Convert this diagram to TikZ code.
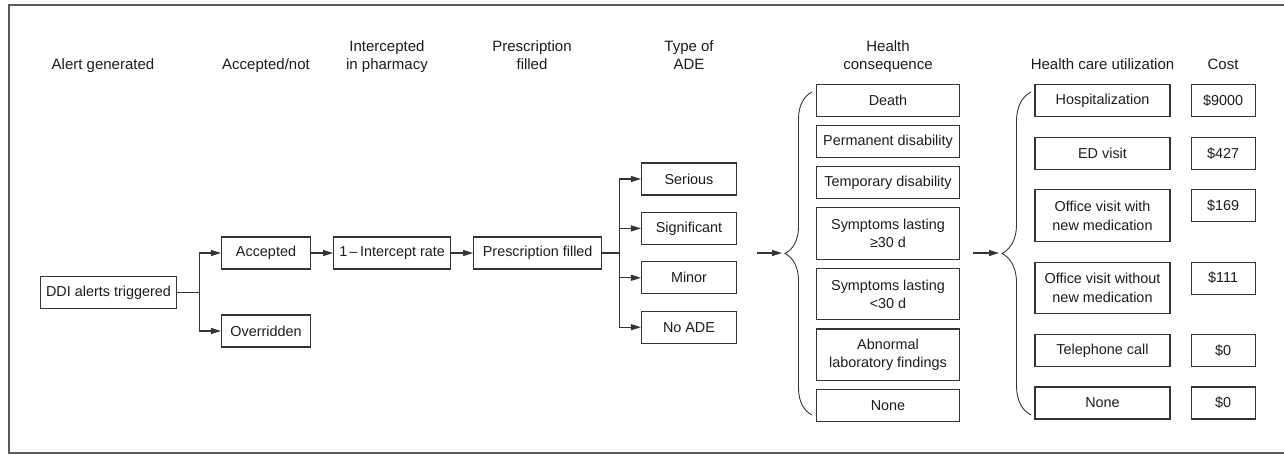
\documentclass[tikz,border=0pt]{standalone}
\usepackage{fontspec}
\setmainfont{Liberation Sans}
\usepackage{tikz}
\usetikzlibrary{arrows.meta, positioning, decorations.pathreplacing}
\definecolor{boxline}{RGB}{52, 52, 52}
\definecolor{inktext}{RGB}{28, 28, 28}
\definecolor{framegray}{RGB}{90, 90, 90}

\begin{document}
\begin{tikzpicture}[
    x=1pt, y=-1pt,
    every node/.style={font=\fontsize{14.4}{18.5}\selectfont, text=inktext},
    box/.style={rectangle, draw=boxline, line width=1.1pt, minimum height=32pt, inner sep=2pt, align=center},
    tallbox/.style={box, minimum height=51.5pt},
    heading/.style={anchor=south, inner sep=0pt, align=center, font=\fontsize{15}{18.5}\selectfont},
    link/.style={draw=boxline, line width=1.1pt},
    arr/.style={link, -{Triangle[length=10pt, width=6pt]}},
    bracket/.style={draw=boxline, line width=0.9pt, decorate, decoration={brace, amplitude=#1}}
]
\useasboundingbox (0,0) rectangle (1284,455);
\draw[framegray, line width=1.6pt] (1284,5) -- (9,5) -- (9,453) -- (1284,453);

% column headings
\node[heading] (hAlert) at (103,75.5) {Alert generated\strut};
\node[heading] (hAcc) at (266,75.5) {Accepted/not\strut};
\node[heading] (hIcpt) at (387,75.5) {Intercepted\\in pharmacy\strut};
\node[heading] (hFill) at (532,75.5) {Prescription\\filled\strut};
\node[heading] (hAde) at (689,75.5) {Type of\\ADE\strut};
\node[heading] (hCons) at (888,75.5) {Health\\consequence\strut};
\node[heading] (hUtil) at (1102.5,75.5) {Health care utilization\strut};
\node[heading] (hCost) at (1223,75.5) {Cost\strut};

% alert chain
\node[box, minimum width=136pt] (ddi) at (108.5,292.5) {DDI alerts triggered};
\node[box, minimum width=89pt] (acc) at (266,253) {Accepted};
\node[box, minimum width=89pt] (ovr) at (266,331) {Overridden};
\node[box, minimum width=117pt, right=22pt of acc] (icpt) {1\,–\,Intercept rate};
\node[box, minimum width=128pt, right=22pt of icpt] (filled) {Prescription filled};

% type of ADE
\node[box, minimum width=95pt] (serious) at (689,179) {Serious};
\node[box, minimum width=95pt, below=16.3pt of serious] (signif) {Significant};
\node[box, minimum width=95pt, below=16.3pt of signif] (minor) {Minor};
\node[box, minimum width=95pt, below=16.3pt of minor] (noade) {No ADE};

% health consequence
\node[box, minimum width=143pt] (death) at (888,100.5) {Death};
\node[box, minimum width=143pt, below=8pt of death] (perm) {Permanent disability};
\node[box, minimum width=143pt, below=8pt of perm] (temp) {Temporary disability};
\node[tallbox, minimum width=143pt, below=8pt of temp] (symlong) {Symptoms lasting\\≥30 d};
\node[tallbox, minimum width=143pt, below=8pt of symlong] (symshort) {Symptoms lasting\\<30 d};
\node[tallbox, minimum width=143pt, below=8pt of symshort] (lab) {Abnormal\\laboratory findings};
\node[box, minimum width=143pt, below=8pt of lab] (consnone) {None};

% health care utilization
\node[box, minimum width=135pt] (hosp) at (1102.5,100.5) {Hospitalization};
\node[box, minimum width=135pt, below=19.6pt of hosp] (edvisit) {ED visit};
\node[tallbox, minimum width=135pt, below=19.6pt of edvisit] (offmed) {Office visit with\\new medication};
\node[tallbox, minimum width=135pt, below=19.6pt of offmed] (offnomed) {Office visit without\\new medication};
\node[box, minimum width=135pt, below=19.6pt of offnomed] (phone) {Telephone call};
\node[box, minimum width=135pt, below=19.6pt of phone] (utilnone) {None};

% cost
\node[box, minimum width=64pt, right=20pt of hosp] (cHosp) {\$9000};
\node[box, minimum width=64pt, right=20pt of edvisit] (cEd) {\$427};
\node[box, minimum width=64pt, right=20pt of offmed.north east, anchor=north west] (cOffmed) {\$169};
\node[box, minimum width=64pt, right=20pt of offnomed.north east, anchor=north west] (cOffnomed) {\$111};
\node[box, minimum width=64pt, right=20pt of phone] (cPhone) {\$0};
\node[box, minimum width=64pt, right=20pt of utilnone] (cNone) {\$0};

% connectors
\draw[arr] (ddi.east) -- ++(22,0) |- (acc.west);
\draw[arr] (ddi.east) -- ++(22,0) |- (ovr.west);
\draw[arr] (acc) -- (icpt);
\draw[arr] (icpt) -- (filled);
\foreach \ade in {serious, signif, minor, noade}
    \draw[arr] (filled.east) -- ++(17,0) |- (\ade.west);

% braces
\coordinate (braceAin) at (757,253);
\coordinate (braceAtip) at (782,253);
\coordinate (braceAbot) at (812,415);
\coordinate (braceAtop) at (812,92);
\draw[arr] (braceAin) -- (braceAtip);
\draw[bracket=27pt] (braceAbot) -- (braceAtop);
\coordinate (braceBin) at (973,253);
\coordinate (braceBtip) at (999,253);
\coordinate (braceBbot) at (1031,415);
\coordinate (braceBtop) at (1031,92);
\draw[arr] (braceBin) -- (braceBtip);
\draw[bracket=29pt] (braceBbot) -- (braceBtop);
\end{tikzpicture}
\end{document}
